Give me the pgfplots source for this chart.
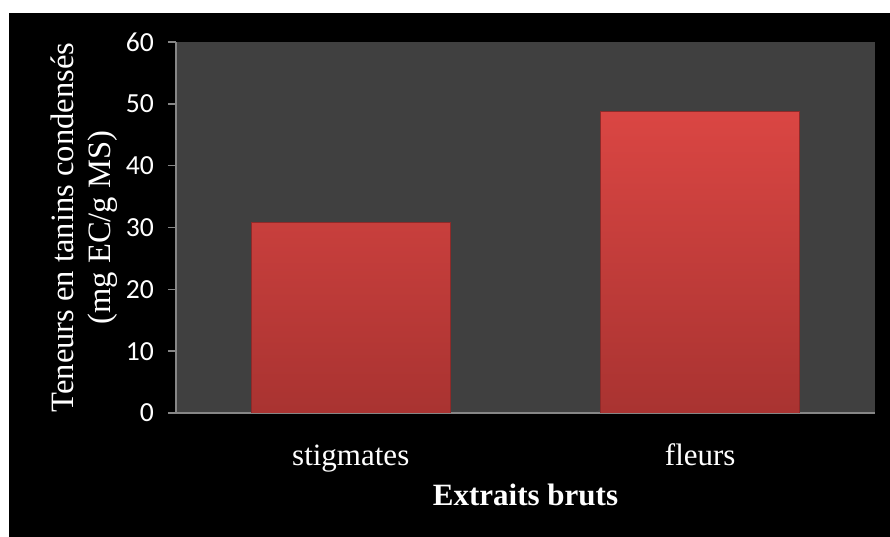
\documentclass[border=0pt]{standalone}
\usepackage{fontspec}
\setmainfont{Liberation Serif}
\newfontfamily\calibri{Carlito}
\usepackage{pgfplots}
\pgfplotsset{compat=1.18}
\definecolor{axisgray}{HTML}{868686}
\definecolor{plotbg}{HTML}{404040}
\definecolor{bartop}{HTML}{DA4643}
\definecolor{barbot}{HTML}{A93331}
\definecolor{baredge}{HTML}{8E2A29}
\begin{document}
\begin{tikzpicture}
\fill[white] (-88bp,-62bp) rectangle (357bp,206.5bp);
\fill[black] (-83.5bp,-62bp) rectangle (357bp,200bp);
\begin{pgfinterruptboundingbox}
\begin{axis}[
  at={(0,0)}, anchor=south west,
  scale only axis, width=349.5bp, height=185.5bp,
  xmin=-0.5, xmax=1.5, ymin=0, ymax=60,
  axis background/.style={fill=plotbg},
  axis x line*=bottom, axis y line*=left,
  axis line style={draw=axisgray, line width=0.75bp},
  xtick={0,1}, xticklabels={stigmates,fleurs},
  ytick={0,10,...,60},
  tick align=outside, major tick length=4bp,
  ytick style={draw=axisgray, line width=0.75bp},
  xtick style={draw=none},
  /pgf/number format/assume math mode=true,
  yticklabel style={font=\calibri\fontsize{13.8bp}{16bp}\selectfont, text=white, xshift=-3.5bp},
  xticklabel style={font=\fontsize{15.5bp}{18bp}\selectfont, text=white, anchor=base, yshift=-22bp},
  xlabel={\textbf{Extraits bruts}},
  every axis x label/.style={at={(axis description cs:0.5,0)}, anchor=base, yshift=-46bp, font=\fontsize{15.5bp}{18bp}\selectfont, text=white},
  ylabel={Teneurs en tanins condensés\\(mg EC/g MS)},
  every axis y label/.style={at={(axis description cs:0,0.5)}, anchor=center, xshift=-46bp, rotate=90, align=center, font=\fontsize{16.3bp}{18.5bp}\selectfont, text=white},
]
\addplot[ybar, bar width=99.5bp, draw=baredge, line width=0.4bp, top color=bartop, bottom color=barbot]
  coordinates {(0,30.8) (1,48.7)};
\end{axis}
\end{pgfinterruptboundingbox}
\end{tikzpicture}
\end{document}
